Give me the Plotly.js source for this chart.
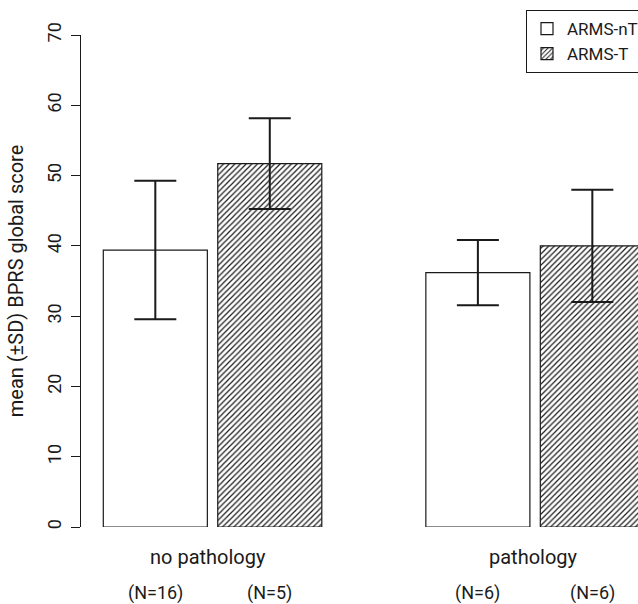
<!DOCTYPE html>
<html>
<head>
<meta charset="utf-8">
<script src="https://cdn.plot.ly/plotly-3.0.1.min.js"></script>
<style>html,body{margin:0;padding:0;background:#fff;overflow:hidden;width:638px;height:604px;}#chart{width:652px;height:604px;}</style>
</head>
<body>
<div id="chart"></div>
<script>
// ---- data ----
const groups = ['no pathology', 'pathology'];
const seriesNames = ['ARMS-nT', 'ARMS-T'];
const meanNT = [39.4, 36.2];
const sdNT = [9.85, 4.65];
const meanT = [51.7, 40.0];
const sdT = [6.45, 8.0];
const nNT = [16, 6];
const nT = [5, 6];
const yTicks = [0, 10, 20, 30, 40, 50, 60, 70];

// ---- layout helpers (R barplot beside=TRUE, space=c(0.1,1)) ----
const barW = 1, innerGap = 0.1, groupGap = 1;
const groupStep = 2 * barW + innerGap + groupGap;
function center(g, s) { return g * groupStep + s * (barW + innerGap) + barW / 2; }

const xNT = groups.map((_, g) => center(g, 0));
const xT = groups.map((_, g) => center(g, 1));
const xGroup = groups.map((_, g) => (center(g, 0) + center(g, 1)) / 2);

const FONT = 'Roboto, "Liberation Sans", Arial, sans-serif';
const ink = '#1a1a1a';

const traces = [
  {
    type: 'bar', name: seriesNames[0], x: xNT, y: meanNT, width: barW,
    marker: { color: '#ffffff', line: { color: ink, width: 1.2 } },
    error_y: { type: 'data', array: sdNT, visible: true, color: ink, thickness: 2, width: 21 }
  },
  {
    type: 'bar', name: seriesNames[1], x: xT, y: meanT, width: barW,
    marker: { color: '#ffffff', line: { color: ink, width: 1.2 },
      pattern: { shape: '/', fgcolor: ink, bgcolor: '#ffffff', size: 4, solidity: 0.3 } },
    error_y: { type: 'data', array: sdT, visible: true, color: ink, thickness: 2, width: 21 }
  }
];

const annotations = [];
groups.forEach((gname, g) => {
  annotations.push({ text: gname, x: xGroup[g], xref: 'x', y: 0, yref: 'paper',
    yanchor: 'middle', xanchor: 'center', yshift: -30, xshift: g === 0 ? -5 : -2, showarrow: false,
    font: { family: FONT, size: 20, color: ink } });
  annotations.push({ text: '(N=' + nNT[g] + ')', x: xNT[g], xref: 'x', y: 0, yref: 'paper',
    yanchor: 'middle', xanchor: 'center', yshift: -66, showarrow: false,
    font: { family: FONT, size: 18, color: ink } });
  annotations.push({ text: '(N=' + nT[g] + ')', x: xT[g], xref: 'x', y: 0, yref: 'paper',
    yanchor: 'middle', xanchor: 'center', yshift: -66, showarrow: false,
    font: { family: FONT, size: 18, color: ink } });
});

const layout = {
  width: 652, height: 604,
  margin: { l: 81, r: 0, t: 35, b: 77, pad: 0 },
  paper_bgcolor: '#ffffff', plot_bgcolor: '#ffffff',
  font: { family: FONT, color: ink },
  barmode: 'overlay',
  showlegend: true,
  legend: {
    x: (526 - 81) / (652 - 81), y: 1.0508, xanchor: 'left', yanchor: 'top',
    bordercolor: ink, borderwidth: 1, bgcolor: '#ffffff',
    font: { family: FONT, size: 17, color: ink },
    tracegroupgap: 0, itemwidth: 30
  },
  xaxis: {
    range: [(81 - 103.3) / 104.05, (652 - 103.3) / 104.05], showline: false, showgrid: false, zeroline: false,
    showticklabels: false, ticks: '', fixedrange: true
  },
  yaxis: {
    range: [0, 70], tickvals: yTicks, ticktext: yTicks.map(String),
    tickangle: -90, ticks: 'outside', ticklen: 9, tickwidth: 1, tickcolor: ink,
    showline: true, linecolor: ink, linewidth: 1, showgrid: false, zeroline: false,
    tickfont: { family: FONT, size: 18, color: ink }, ticklabelstandoff: 3,
    title: { text: 'mean (±SD) BPRS global score', font: { family: FONT, size: 20, color: ink }, standoff: 14 }
  },
  annotations: annotations
};

Plotly.newPlot('chart', traces, layout, { displayModeBar: false, staticPlot: true });
</script>
</body>
</html>
